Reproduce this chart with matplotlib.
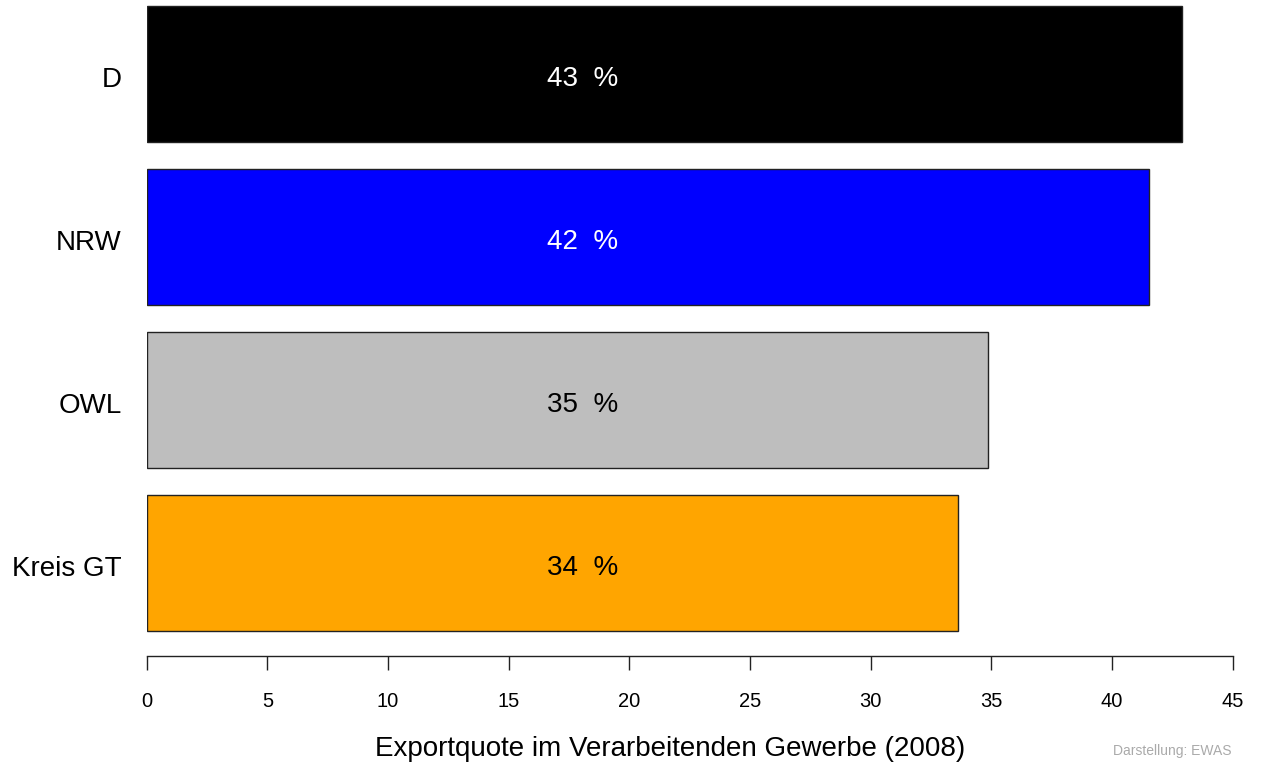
import matplotlib
matplotlib.use("Agg")
import matplotlib.pyplot as plt
from matplotlib.transforms import offset_copy

categories = ["Kreis GT", "OWL", "NRW", "D"]
values = [33.6, 34.85, 41.55, 42.9]
colors = ["#FFA500", "#BEBEBE", "#0000FF", "#000000"]
label_colors = ["black", "black", "white", "white"]
xticks = [0, 5, 10, 15, 20, 25, 30, 35, 40, 45]

plt.rcParams['font.family'] = ['Liberation Sans', 'DejaVu Sans']

W, H = 1261, 766
fig = plt.figure(figsize=(W / 100, H / 100), dpi=100)

left_px, right_px = 146.7, 1232.7
bottom_px = 655.7
ax = fig.add_axes([left_px / W, (H - bottom_px) / H, (right_px - left_px) / W, bottom_px / H])

positions = [0.7, 1.9, 3.1, 4.3]
ax.barh(positions, values, height=1.0, color=colors, edgecolor="#222222", linewidth=1.0)

for p, v, lc in zip(positions, values, label_colors):
    ax.text(18.08, p - 0.035, f"{round(v):d}  %", ha="center", va="center", fontsize=20, color=lc)

ax.set_xlim(0, 45)
ax.set_ylim(0.016, 4.846)

for s in ["top", "right", "left"]:
    ax.spines[s].set_visible(False)
ax.spines["bottom"].set_bounds(0, 45)
ax.spines["bottom"].set_linewidth(1.0)
ax.spines["bottom"].set_color("#222222")

ax.set_xticks(xticks)
ax.set_xticklabels([str(t) for t in xticks], fontsize=14.5)
ax.tick_params(axis="x", direction="out", length=10, width=1.0, color="#222222", pad=16)

ax.set_yticks(positions)
ax.set_yticklabels(categories, fontsize=20)
ax.tick_params(axis="y", length=0, pad=18)
for lbl in ax.get_yticklabels():
    lbl.set_transform(offset_copy(lbl.get_transform(), fig=fig, x=0, y=-3, units="dots"))

fig.text(670 / W, 1 - 749 / H, "Exportquote im Verarbeitenden Gewerbe (2008)",
         ha="center", va="center", fontsize=20)
fig.text(1172 / W, 1 - 751 / H, "Darstellung: EWAS", ha="center", va="center",
         fontsize=10, color="#AAAAAA")

fig.savefig("out.png", dpi=100)
